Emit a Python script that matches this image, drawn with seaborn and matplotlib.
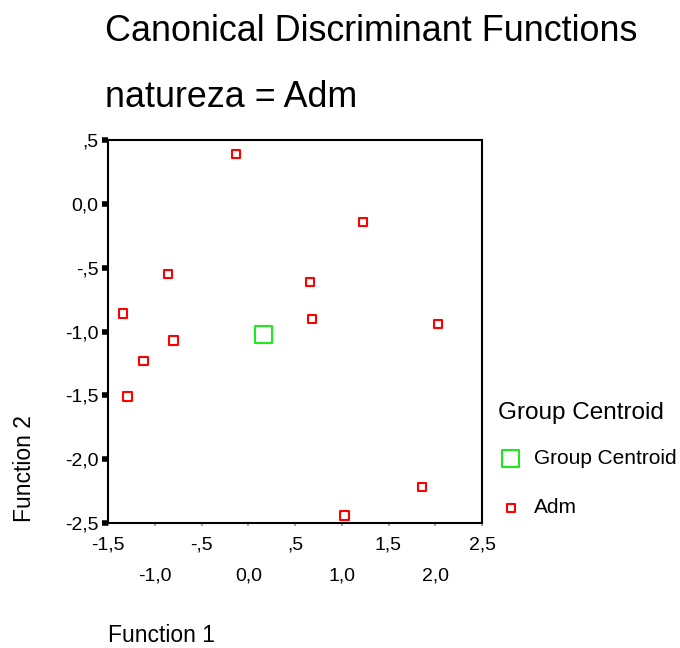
import pandas as pd
import seaborn as sns
import matplotlib
matplotlib.use('Agg')
import matplotlib.pyplot as plt

# scores
f1 = [-0.13, 1.23, -0.86, 0.66, -1.34, 0.68, 2.03, -0.80, -1.12, -1.29, 1.86, 1.03]
f2 = [0.39, -0.14, -0.55, -0.61, -0.86, -0.90, -0.94, -1.07, -1.23, -1.51, -2.22, -2.44]
centroid_f1 = [0.16]
centroid_f2 = [-1.02]

xticks_top = [-1.5, -0.5, 0.5, 1.5, 2.5]
xlabels_top = ['-1,5', '-,5', ',5', '1,5', '2,5']
xticks_low = [-1.0, 0.0, 1.0, 2.0]
xlabels_low = ['-1,0', '0,0', '1,0', '2,0']
yticks = [0.5, 0.0, -0.5, -1.0, -1.5, -2.0, -2.5]
ylabels = [',5', '0,0', '-,5', '-1,0', '-1,5', '-2,0', '-2,5']

sns.set_style('white')
plt.rcParams['font.family'] = ['Liberation Sans', 'DejaVu Sans']
plt.rcParams['text.color'] = 'black'
plt.rcParams['xtick.color'] = 'black'
plt.rcParams['ytick.color'] = 'black'

df = pd.DataFrame({'f1': f1, 'f2': f2})
cen = pd.DataFrame({'f1': centroid_f1, 'f2': centroid_f2})

fig = plt.figure(figsize=(6.8, 6.48), dpi=100)
ax = fig.add_axes([108/680, 1-523/648, 374/680, 383/648])

sns.scatterplot(data=cen, x='f1', y='f2', ax=ax, marker='s', s=150,
                facecolor='none', edgecolor='#1ee81e', linewidth=1.5,
                label='Group Centroid')
sns.scatterplot(data=df, x='f1', y='f2', ax=ax, marker='s', s=36,
                facecolor='none', edgecolor='#ff0000', linewidth=1.5,
                label='Adm')

ax.set_xlim(-1.5, 2.5)
ax.set_ylim(-2.5, 0.5)
ax.set_xlabel('')
ax.set_ylabel('')

ax.set_xticks(xticks_top)
ax.set_xticklabels(xlabels_top)
ax.set_xticks(xticks_low, minor=True)
ax.set_xticklabels(xlabels_low, minor=True)
ax.tick_params(axis='x', which='both', bottom=True, labelsize=14,
               direction='out', length=2, width=1.5, color='#aaaaaa',
               labelcolor='black')
ax.tick_params(axis='x', which='major', pad=8)
ax.tick_params(axis='x', which='minor', pad=30)
ax.set_yticks(yticks)
ax.set_yticklabels(ylabels)
ax.tick_params(axis='y', left=True, labelsize=14, direction='out', length=4,
               width=4, color='black', pad=3)

for s in ax.spines.values():
    s.set_color('black')
    s.set_linewidth(1.5)

fig.text(105/680, 1-41/648, 'Canonical Discriminant Functions', fontsize=25.8,
         va='baseline', ha='left')
fig.text(105/680, 1-107/648, 'natureza = Adm', fontsize=25.8,
         va='baseline', ha='left')
fig.text(108/680, 1-636/648, 'Function 1', fontsize=16.5, va='center', ha='left')
fig.text(25/680, 1-522/648, 'Function 2', fontsize=16.5, rotation=90,
         va='bottom', ha='center')

leg = ax.legend(loc='upper left', bbox_to_anchor=(494/680, 1-398/648),
                bbox_transform=fig.transFigure, frameon=False,
                title='Group Centroid', title_fontsize=17.5, fontsize=15,
                alignment='left', labelspacing=1.45, handletextpad=0.5,
                handlelength=1.2, borderpad=0.2, borderaxespad=0)
leg.get_title().set_color('black')
leg._legend_box.sep = 18

fig.savefig('out.png', dpi=100)
